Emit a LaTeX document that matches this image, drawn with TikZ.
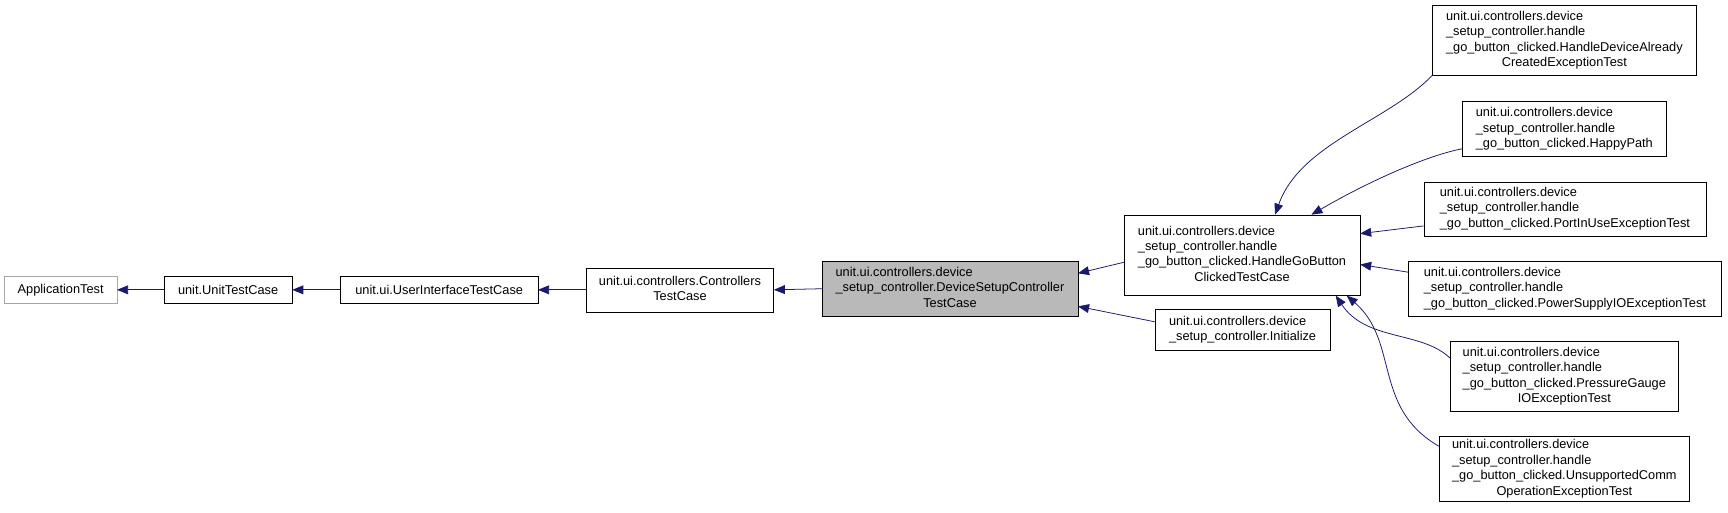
\documentclass[tikz,border=0pt]{standalone}
\usepackage{fontspec}
\setmainfont{Liberation Sans}
\usetikzlibrary{arrows.meta}
\definecolor{edge}{HTML}{191970}
\newcommand{\lines}[1]{\begin{tabular}{@{}l@{}}#1\end{tabular}}
\newcommand{\cl}[1]{\multicolumn{1}{@{}c@{}}{#1}}
\tikzset{
 cls/.style={draw=black,fill=white,inner sep=0pt},
 lbl/.style={font=\fontsize{11.6}{14}\selectfont,inner sep=0pt},
 inh/.style={draw=edge,{Triangle[length=10pt,width=8pt]}-,line width=0.7pt},
}
\begin{document}
\begin{tikzpicture}[x=1pt,y=-1pt]
\useasboundingbox (0,0) rectangle (1568,465);
\newcommand{\bx}[6]{\node[cls,#6,minimum width=#4-#2,minimum height=#5-#3] (#1) at ({(#2+#4)/2},{(#3+#5)/2}) {};}
\bx{app}{4}{251}{106}{275}{draw=gray!70}
\node[lbl] at (app) {ApplicationTest};
\bx{utc}{149}{251}{265}{275}{}
\node[lbl] at (utc) {unit.UnitTestCase};
\bx{uitc}{309}{251}{488}{275}{}
\node[lbl] at (uitc) {unit.ui.UserInterfaceTestCase};
\bx{ctc}{532}{243}{702}{283}{}
\node[lbl] at (ctc) {\lines{unit.ui.controllers.Controllers\\\cl{TestCase}}};
\bx{dsc}{746}{237}{978}{287}{fill=gray!55}
\node[lbl] at (dsc) {\lines{unit.ui.controllers.device\\\_setup\_controller.DeviceSetupController\\\cl{TestCase}}};
\bx{hgb}{1020}{195}{1234}{268}{}
\node[lbl] at (hgb) {\lines{unit.ui.controllers.device\\\_setup\_controller.handle\\\_go\_button\_clicked.HandleGoButton\\\cl{ClickedTestCase}}};
\bx{ini}{1048}{281}{1207}{318}{}
\node[lbl] at (ini) {\lines{unit.ui.controllers.device\\\_setup\_controller.Initialize}};
\bx{hda}{1300}{5}{1539}{68}{}
\node[lbl] at (hda) {\lines{unit.ui.controllers.device\\\_setup\_controller.handle\\\_go\_button\_clicked.HandleDeviceAlready\\\cl{CreatedExceptionTest}}};
\bx{hp}{1327}{92}{1512}{142}{}
\node[lbl] at (hp) {\lines{unit.ui.controllers.device\\\_setup\_controller.handle\\\_go\_button\_clicked.HappyPath}};
\bx{piu}{1292}{165}{1548}{214}{}
\node[lbl] at (piu) {\lines{unit.ui.controllers.device\\\_setup\_controller.handle\\\_go\_button\_clicked.PortInUseExceptionTest}};
\bx{psu}{1278}{237}{1562}{287}{}
\node[lbl] at (psu) {\lines{unit.ui.controllers.device\\\_setup\_controller.handle\\\_go\_button\_clicked.PowerSupplyIOExceptionTest}};
\bx{pg}{1316}{310}{1523}{373}{}
\node[lbl] at (pg) {\lines{unit.ui.controllers.device\\\_setup\_controller.handle\\\_go\_button\_clicked.PressureGauge\\\cl{IOExceptionTest}}};
\bx{uns}{1306}{396}{1533}{455}{}
\node[lbl] at (uns) {\lines{unit.ui.controllers.device\\\_setup\_controller.handle\\\_go\_button\_clicked.UnsupportedComm\\\cl{OperationExceptionTest}}};
\draw[inh] (app.east) -- (utc.west);
\draw[inh] (utc.east) -- (uitc.west);
\draw[inh] (uitc.east) -- (ctc.west);
\draw[inh] (ctc.east) -- (dsc.west);
\draw[inh] (dsc.east |- 0,248) -- (hgb.west |- 0,238);
\draw[inh] (dsc.east |- 0,278) -- (ini.west |- 0,292);
\draw[inh] (hgb.north -| 1157,0) .. controls (1180,130) and (1260,110) .. (hda.south west);
\draw[inh] (hgb.north -| 1190,0) .. controls (1250,160) and (1300,140) .. (hp.west |- 0,135);
\draw[inh] (hgb.east |- 0,212) -- (piu.west |- 0,205);
\draw[inh] (hgb.east |- 0,240) -- (psu.west |- 0,247);
\draw[inh] (hgb.south -| 1212,0) .. controls (1240,310) and (1290,300) .. (pg.west |- 0,325);
\draw[inh] (hgb.south -| 1222,0) .. controls (1270,310) and (1245,370) .. (uns.west |- 0,405);
\end{tikzpicture}
\end{document}
